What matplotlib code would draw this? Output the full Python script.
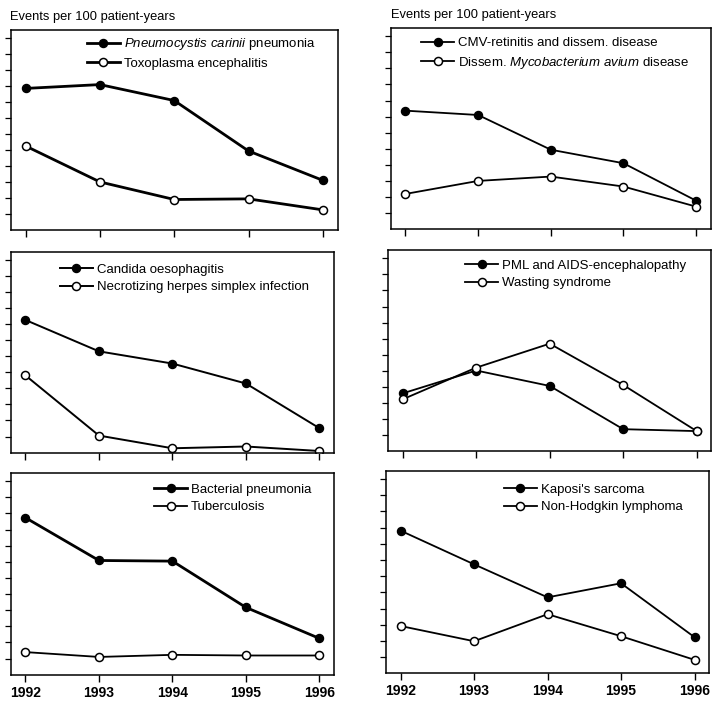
import matplotlib
matplotlib.use("Agg")
import matplotlib.pyplot as plt

plt.rcParams['font.family'] = ['Liberation Sans', 'DejaVu Sans']
plt.rcParams['mathtext.fontset'] = 'custom'
plt.rcParams['mathtext.it'] = 'Liberation Sans:italic'
plt.rcParams['mathtext.rm'] = 'Liberation Sans'

years = [1992, 1993, 1994, 1995, 1996]
year_labels = ['1992', '1993', '1994', '1995', '1996']

# events per 100 patient-years (in tick units)
pcp = [8.86, 9.1, 8.1, 4.94, 3.1]
toxo = [5.25, 3.0, 1.9, 1.94, 1.25]
cmv = [7.37, 7.1, 4.94, 4.1, 1.77]
mac = [2.19, 3.0, 3.27, 2.65, 1.4]
candida = [8.25, 6.3, 5.54, 4.3, 1.52]
herpes = [4.8, 1.06, 0.27, 0.38, 0.1]
pml = [3.6, 5.02, 4.06, 1.37, 1.25]
wasting = [3.23, 5.2, 6.69, 4.12, 1.25]
bact = [9.73, 7.08, 7.04, 4.17, 2.25]
tb = [1.4, 1.1, 1.23, 1.19, 1.19]
kaposi = [8.81, 6.73, 4.69, 5.56, 2.23]
nhl = [2.92, 1.98, 3.65, 2.29, 0.83]

y_ticks = list(range(1, 13))

panels = [
    # (axes rect, filled series, open series, labels, line widths, legend anchor)
    ([0.015, 0.674, 0.454, 0.283], pcp, toxo,
     [r'$\it{Pneumocystis\ carinii}$ pneumonia', 'Toxoplasma encephalitis'],
     (2.0, 2.0), (0.232, 0.97)),
    ([0.543, 0.675, 0.444, 0.285], cmv, mac,
     ['CMV-retinitis and dissem. disease', r'Dissem. $\it{Mycobacterium\ avium}$ disease'],
     (1.3, 1.3), (0.095, 0.955)),
    ([0.015, 0.358, 0.449, 0.285], candida, herpes,
     ['Candida oesophagitis', 'Necrotizing herpes simplex infection'],
     (1.4, 1.4), (0.152, 0.94)),
    ([0.539, 0.360, 0.449, 0.285], pml, wasting,
     ['PML and AIDS-encephalopathy', 'Wasting syndrome'],
     (1.3, 1.3), (0.238, 0.953)),
    ([0.015, 0.043, 0.449, 0.286], bact, tb,
     ['Bacterial pneumonia', 'Tuberculosis'],
     (2.0, 1.3), (0.443, 0.948)),
    ([0.536, 0.045, 0.449, 0.287], kaposi, nhl,
     ["Kaposi's sarcoma", 'Non-Hodgkin lymphoma'],
     (1.3, 1.3), (0.365, 0.938)),
]

fig = plt.figure(figsize=(7.2, 7.05), dpi=100)

for i, (rect, filled, hollow, labels, lws, anchor) in enumerate(panels):
    ax = fig.add_axes(rect)
    ax.plot(years, filled, color='black', lw=lws[0], marker='o', markersize=5.8,
            markerfacecolor='black', markeredgecolor='black', label=labels[0])
    ax.plot(years, hollow, color='black', lw=lws[1], marker='o', markersize=5.8,
            markerfacecolor='white', markeredgecolor='black', markeredgewidth=1.1,
            label=labels[1])
    ax.set_xlim(1991.8, 1996.2)
    ax.set_ylim(0, 12.5)
    ax.set_xticks(years)
    ax.set_yticks(y_ticks)
    ax.set_yticklabels([])
    if i >= 4:
        ax.set_xticklabels(year_labels, fontsize=10, fontweight='bold')
    else:
        ax.set_xticklabels([])
    ax.tick_params(axis='x', direction='out', length=5, width=1.0, pad=3)
    ax.tick_params(axis='y', direction='out', length=4, width=0.9)
    for sp in ax.spines.values():
        sp.set_linewidth(1.1)
    ax.legend(loc='upper left', bbox_to_anchor=anchor, frameon=False,
              fontsize=9.5, handlelength=2.5, handletextpad=0.3,
              labelspacing=0.4, borderpad=0, borderaxespad=0)
    if i < 2:
        ax.text(-0.002 if i == 0 else 0.0, 1.035, 'Events per 100 patient-years',
                transform=ax.transAxes, fontsize=9.3, ha='left', va='bottom')

plt.savefig('out.png', dpi=100)
